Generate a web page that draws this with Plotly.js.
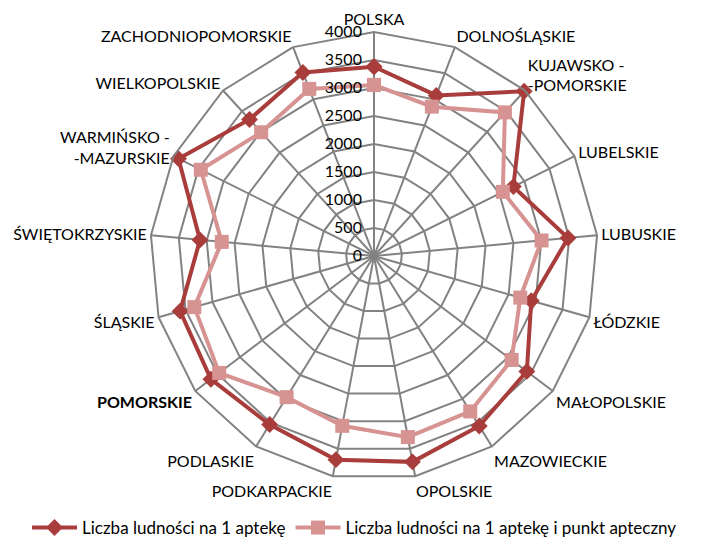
<!DOCTYPE html>
<html>
<head>
<meta charset="utf-8">
<script src="https://cdn.plot.ly/plotly-3.0.1.min.js"></script>
<style>html,body{margin:0;padding:0;background:#fff;}#chart{width:709px;height:550px;}</style>
</head>
<body>
<div id="chart"></div>
<script>
var categories = ["POLSKA","DOLNOŚLĄSKIE","KUJAWSKO -<br>-POMORSKIE","LUBELSKIE","LUBUSKIE","ŁÓDZKIE","MAŁOPOLSKIE","MAZOWIECKIE","OPOLSKIE","PODKARPACKIE","PODLASKIE","<b>POMORSKIE</b>","ŚLĄSKIE","ŚWIĘTOKRZYSKIE","WARMIŃSKO -<br>-MAZURSKIE","WIELKOPOLSKIE","ZACHODNIOPOMORSKIE"];
var seriesNames = ["Liczba ludności na 1 aptekę","Liczba ludności na 1 aptekę i punkt apteczny"];
var apteki = [3380,3075,3980,2780,3480,2920,3420,3570,3740,3700,3540,3650,3600,3120,3900,3300,3515];
var aptekiPunkty = [3055,2860,3470,2570,3005,2715,3080,3265,3290,3085,2965,3465,3335,2730,3455,2990,3200];
var radialTicks = [0,500,1000,1500,2000,2500,3000,3500,4000];

function closed(a){ return a.concat([a[0]]); }

var traces = [
  {type:'scatterpolar', r:closed(apteki), theta:closed(categories), name:seriesNames[0],
   mode:'lines+markers', line:{color:'#A93D3C', width:4},
   marker:{symbol:'diamond', size:13, color:'#A93D3C'}},
  {type:'scatterpolar', r:closed(aptekiPunkty), theta:closed(categories), name:seriesNames[1],
   mode:'lines+markers', line:{color:'#D69392', width:4},
   marker:{symbol:'square', size:14, color:'#D69392'}}
];

var layout = {
  width:709, height:550,
  margin:{l:0,r:0,t:0,b:0},
  paper_bgcolor:'#fff',
  font:{family:'Lato, "Open Sans", sans-serif', size:16, color:'#000'},
  showlegend:true,
  legend:{orientation:'h', x:0.5, xanchor:'center', y:0.04, yanchor:'middle', font:{size:17}, itemwidth:45},
  polar:{
    domain:{x:[150/709, 598/709], y:[(550-480)/550, (550-32)/550]},
    bgcolor:'rgba(0,0,0,0)',
    gridshape:'linear',
    angularaxis:{rotation:90, direction:'clockwise', showline:true, linecolor:'#828282', linewidth:2,
      gridcolor:'#828282', gridwidth:2, ticks:'', tickfont:{size:16}},
    radialaxis:{range:[0,4000], tickvals:radialTicks, ticktext:radialTicks.map(String), angle:90, tickangle:90,
      side:'counterclockwise', showline:false, ticks:'outside', ticklen:6, tickcolor:'rgba(0,0,0,0)',
      gridcolor:'#828282', gridwidth:2, tickfont:{size:16}}
  }
};

Plotly.newPlot('chart', traces, layout, {displayModeBar:false, staticPlot:true});
</script>
</body>
</html>
